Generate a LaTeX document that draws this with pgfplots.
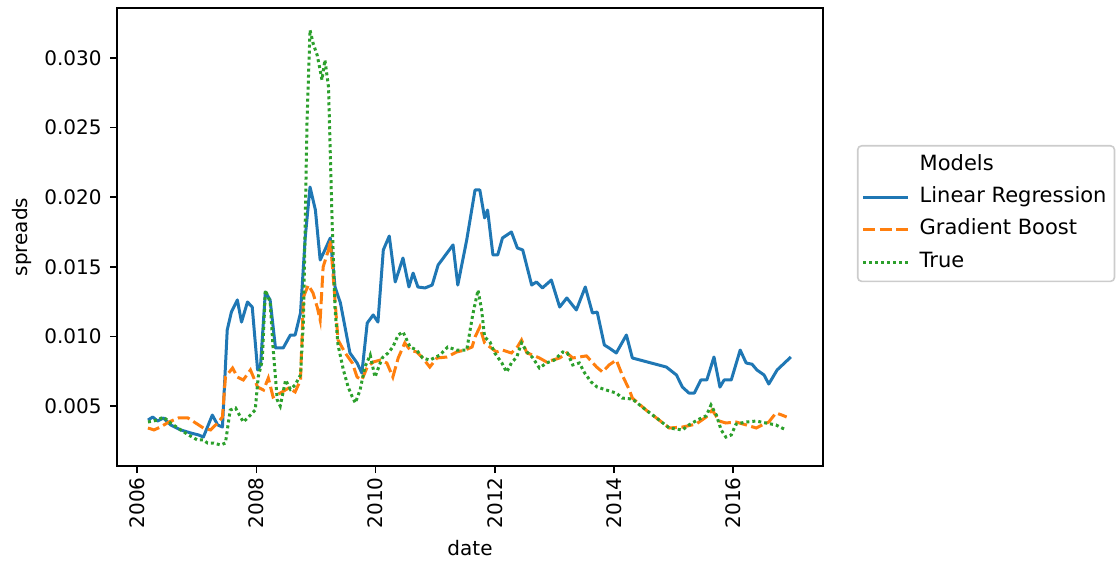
\documentclass[border=0pt]{standalone}
\usepackage{fontspec}
\setmainfont{DejaVu Sans}
\usepackage{pgfplots}
\pgfplotsset{compat=1.18}
\definecolor{cLR}{HTML}{1F77B4}
\definecolor{cGB}{HTML}{FF7F0E}
\definecolor{cTR}{HTML}{2CA02C}
\begin{document}
\fontsize{10}{12}\selectfont
\begin{tikzpicture}
\path[use as bounding box] (-58.5pt,-51.5pt) rectangle (500.5pt,233pt);
\begin{axis}[
  at={(0pt,0pt)}, anchor=south west,
  scale only axis, width=353pt, height=229pt,
  xmin=2005.66, xmax=2017.51, ymin=0.00069, ymax=0.03359,
  xtick={2006,2008,2010,2012,2014,2016},
  ytick={0.005,0.010,0.015,0.020,0.025,0.030},
  scaled y ticks=false,
  /pgf/number format/assume math mode=true,
  tick pos=left, tick align=outside,
  major tick length=3.5pt,
  every tick/.style={black, line width=0.8pt},
  axis line style={black, line width=0.8pt},
  xticklabel shift=2pt, yticklabel shift=4pt,
  xticklabel style={rotate=90, anchor=east, inner sep=0pt, /pgf/number format/1000 sep={}},
  yticklabel style={anchor=east, inner sep=0pt, /pgf/number format/fixed, /pgf/number format/fixed zerofill, /pgf/number format/precision=3},
  xlabel={date}, ylabel={spreads},
  xlabel style={at={(axis description cs:0.5,0)}, anchor=center, yshift=-41pt},
  ylabel style={at={(axis description cs:-0.1346,0.5)}, anchor=center},
  legend style={at={(1.048,0.7009)}, anchor=north west, draw=black!20, line width=0.8pt, rounded corners=2pt, fill=white,
    font=\fontsize{10.5}{12.5}\selectfont, row sep=2pt, inner xsep=2pt, inner ysep=2.5pt,
    nodes={inner sep=2pt, text height=7.7pt, text depth=2.5pt}},
  legend cell align=left,
  legend image code/.code={\draw[#1] (0pt,0pt) -- (22.5pt,0pt); \path (25.5pt,0pt);},
]
\addlegendimage{empty legend}
\addlegendentry{Models}

\addplot[cLR, line width=1.5pt, line join=round] coordinates {
(2006.18,0.00399) (2006.26,0.00421) (2006.34,0.00392) (2006.44,0.00414) (2006.56,0.00364)
(2006.73,0.00328) (2006.90,0.00306) (2007.03,0.00292) (2007.11,0.00277) (2007.26,0.00435)
(2007.35,0.00364) (2007.43,0.00349) (2007.51,0.01046) (2007.58,0.01175) (2007.68,0.01262)
(2007.75,0.01103) (2007.85,0.01247) (2007.93,0.01211) (2008.02,0.00759) (2008.07,0.00795)
(2008.15,0.01319) (2008.23,0.01262) (2008.32,0.00917) (2008.45,0.00917) (2008.57,0.01010)
(2008.65,0.01010) (2008.74,0.01168) (2008.82,0.01714) (2008.90,0.02073) (2008.99,0.01908)
(2009.07,0.01549) (2009.15,0.01621) (2009.24,0.01707) (2009.32,0.01355) (2009.41,0.01240)
(2009.57,0.00881) (2009.69,0.00809) (2009.77,0.00737) (2009.86,0.01096) (2009.96,0.01154)
(2010.04,0.01103) (2010.13,0.01621) (2010.23,0.01721) (2010.33,0.01391) (2010.46,0.01563)
(2010.56,0.01355) (2010.63,0.01455) (2010.71,0.01355) (2010.83,0.01348) (2010.95,0.01369)
(2011.05,0.01513) (2011.30,0.01657) (2011.38,0.01369) (2011.53,0.01693) (2011.67,0.02052)
(2011.75,0.02052) (2011.83,0.01851) (2011.88,0.01908) (2011.97,0.01585) (2012.05,0.01585)
(2012.13,0.01707) (2012.28,0.01750) (2012.38,0.01635) (2012.47,0.01621) (2012.62,0.01369)
(2012.70,0.01391) (2012.80,0.01348) (2012.95,0.01405) (2013.09,0.01211) (2013.21,0.01276)
(2013.37,0.01190) (2013.52,0.01355) (2013.64,0.01168) (2013.72,0.01175) (2013.84,0.00938)
(2013.92,0.00917) (2014.04,0.00881) (2014.21,0.01010) (2014.31,0.00845) (2014.88,0.00780)
(2015.05,0.00723) (2015.15,0.00636) (2015.26,0.00593) (2015.35,0.00593) (2015.46,0.00687)
(2015.56,0.00687) (2015.68,0.00852) (2015.78,0.00636) (2015.85,0.00687) (2015.97,0.00687)
(2016.12,0.00902) (2016.22,0.00809) (2016.32,0.00800) (2016.40,0.00759) (2016.52,0.00723)
(2016.60,0.00658) (2016.74,0.00759) (2016.97,0.00852)
};
\addlegendentry{Linear Regression}

\addplot[cGB, line width=1.5pt, dash pattern=on 6pt off 2.25pt] coordinates {
(2006.18,0.00342) (2006.28,0.00328) (2006.39,0.00349) (2006.53,0.00385) (2006.69,0.00414)
(2006.85,0.00414) (2006.98,0.00378) (2007.11,0.00342) (2007.23,0.00328) (2007.35,0.00378)
(2007.43,0.00421) (2007.48,0.00708) (2007.60,0.00773) (2007.68,0.00708) (2007.78,0.00687)
(2007.90,0.00759) (2008.02,0.00636) (2008.12,0.00615) (2008.20,0.00701) (2008.28,0.00565)
(2008.40,0.00593) (2008.54,0.00629) (2008.65,0.00601) (2008.74,0.00687) (2008.79,0.01283)
(2008.87,0.01369) (2008.95,0.01312) (2009.02,0.01211) (2009.07,0.01118) (2009.12,0.01499)
(2009.21,0.01621) (2009.24,0.01693) (2009.29,0.01427) (2009.37,0.00974) (2009.49,0.00881)
(2009.61,0.00809) (2009.69,0.00708) (2009.77,0.00687) (2009.86,0.00780) (2009.96,0.00816)
(2010.08,0.00830) (2010.19,0.00809) (2010.29,0.00708) (2010.38,0.00845) (2010.49,0.00953)
(2010.58,0.00902) (2010.69,0.00888) (2010.79,0.00845) (2010.91,0.00780) (2011.03,0.00845)
(2011.20,0.00852) (2011.36,0.00888) (2011.50,0.00902) (2011.62,0.00924) (2011.67,0.00996)
(2011.75,0.01068) (2011.83,0.00953) (2011.92,0.00924) (2012.03,0.00888) (2012.13,0.00902)
(2012.28,0.00881) (2012.38,0.00924) (2012.45,0.00974) (2012.54,0.00881) (2012.64,0.00866)
(2012.75,0.00845) (2012.87,0.00816) (2012.97,0.00830) (2013.09,0.00845) (2013.21,0.00881)
(2013.31,0.00845) (2013.42,0.00852) (2013.54,0.00860) (2013.71,0.00780) (2013.81,0.00744)
(2013.92,0.00795) (2014.04,0.00830) (2014.14,0.00723) (2014.26,0.00615) (2014.31,0.00557)
(2014.54,0.00471) (2014.76,0.00399) (2014.93,0.00342) (2015.15,0.00349) (2015.38,0.00370)
(2015.55,0.00421) (2015.65,0.00471) (2015.77,0.00392) (2015.88,0.00378) (2016.05,0.00385)
(2016.22,0.00364) (2016.39,0.00342) (2016.49,0.00364) (2016.60,0.00385) (2016.72,0.00450)
(2016.82,0.00435) (2016.90,0.00421)
};
\addlegendentry{Gradient Boost}

\addplot[cTR, line width=1.5pt, dash pattern=on 1.5pt off 1.5pt] coordinates {
(2006.18,0.00385) (2006.34,0.00399) (2006.44,0.00421) (2006.56,0.00378) (2006.73,0.00328)
(2006.86,0.00292) (2007.01,0.00256) (2007.11,0.00256) (2007.18,0.00234) (2007.28,0.00234)
(2007.40,0.00220) (2007.48,0.00234) (2007.56,0.00471) (2007.65,0.00486) (2007.78,0.00385)
(2007.90,0.00435) (2007.98,0.00471) (2008.03,0.00708) (2008.10,0.00830) (2008.15,0.01333)
(2008.23,0.01247) (2008.28,0.00917) (2008.35,0.00543) (2008.40,0.00500) (2008.49,0.00687)
(2008.57,0.00620) (2008.65,0.00651) (2008.74,0.00723) (2008.79,0.01118) (2008.85,0.02555)
(2008.90,0.03201) (2008.95,0.03108) (2009.02,0.03020) (2009.07,0.02914) (2009.10,0.02842)
(2009.15,0.02986) (2009.21,0.02792) (2009.27,0.01836) (2009.32,0.01190) (2009.37,0.00938)
(2009.46,0.00759) (2009.54,0.00636) (2009.61,0.00565) (2009.66,0.00522) (2009.74,0.00615)
(2009.82,0.00780) (2009.91,0.00866) (2009.99,0.00708) (2010.11,0.00845) (2010.21,0.00881)
(2010.29,0.00924) (2010.38,0.01010) (2010.46,0.01032) (2010.58,0.00924) (2010.69,0.00902)
(2010.79,0.00845) (2010.91,0.00830) (2011.08,0.00866) (2011.21,0.00924) (2011.36,0.00902)
(2011.53,0.00902) (2011.63,0.01154) (2011.72,0.01333) (2011.78,0.01190) (2011.83,0.00996)
(2011.92,0.00960) (2012.00,0.00881) (2012.12,0.00809) (2012.20,0.00744) (2012.28,0.00809)
(2012.37,0.00852) (2012.45,0.00953) (2012.54,0.00888) (2012.64,0.00845) (2012.75,0.00773)
(2012.87,0.00809) (2013.00,0.00830) (2013.14,0.00888) (2013.22,0.00881) (2013.31,0.00795)
(2013.42,0.00809) (2013.51,0.00737) (2013.62,0.00672) (2013.72,0.00636) (2013.87,0.00615)
(2014.04,0.00593) (2014.14,0.00557) (2014.31,0.00550) (2014.54,0.00471) (2014.76,0.00399)
(2014.93,0.00342) (2015.15,0.00328) (2015.26,0.00364) (2015.40,0.00399) (2015.55,0.00430)
(2015.63,0.00507) (2015.72,0.00435) (2015.80,0.00328) (2015.88,0.00277) (2015.97,0.00292)
(2016.05,0.00370) (2016.22,0.00385) (2016.39,0.00392) (2016.55,0.00378) (2016.72,0.00364)
(2016.82,0.00342) (2016.90,0.00328)
};
\addlegendentry{True}
\end{axis}
\end{tikzpicture}
\end{document}
